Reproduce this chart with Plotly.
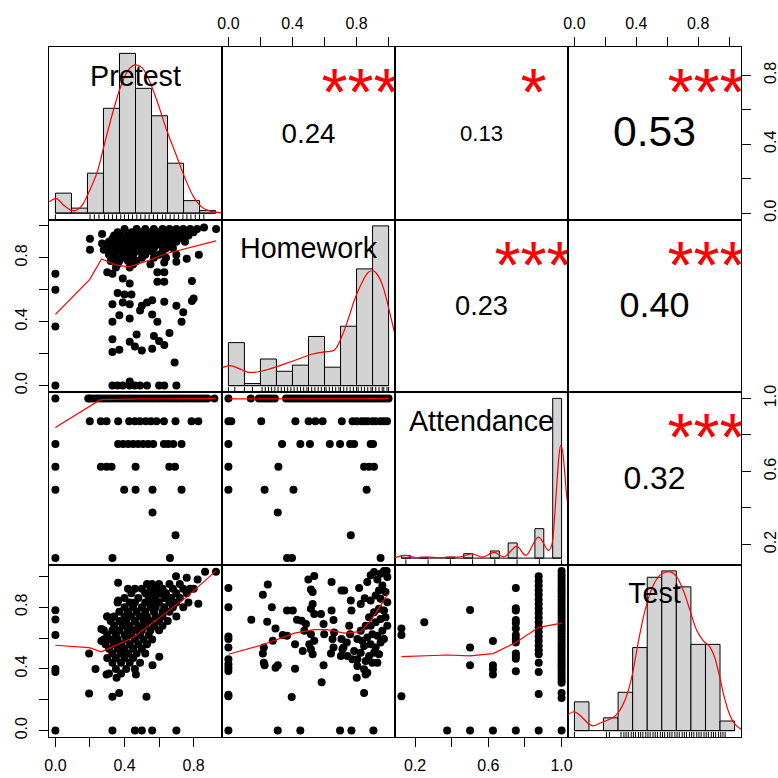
import plotly.graph_objects as go

FONT = "Liberation Sans, Arial, Helvetica, sans-serif"

# ---------------- data ----------------
var_names = ["Pretest", "Homework", "Attendance", "Test"]
var_min = [0.0, 0.0, 0.125, 0.0]
var_max = [0.927, 1.0, 1.0, 1.035]

tick_vals = [[0, 0.2, 0.4, 0.6, 0.8],
             [0, 0.2, 0.4, 0.6, 0.8, 1.0],
             [0.2, 0.4, 0.6, 0.8, 1.0],
             [0, 0.2, 0.4, 0.6, 0.8, 1.0]]
tick_text = [["0.0", "", "0.4", "", "0.8"],
             ["0.0", "", "0.4", "", "0.8", ""],
             ["0.2", "", "0.6", "", "1.0"],
             ["0.0", "", "0.4", "", "0.8", ""]]

corr_vals = {(0, 1): 0.24, (0, 2): 0.13, (0, 3): 0.53, (1, 2): 0.23, (1, 3): 0.40, (2, 3): 0.32}
corr_stars = {(0, 1): "***", (0, 2): "*", (0, 3): "***", (1, 2): "***", (1, 3): "***", (2, 3): "***"}

# histograms (bin breaks and counts)
pre_breaks = [0.0, 0.1, 0.2, 0.3, 0.4, 0.5, 0.6, 0.7, 0.8, 0.9, 1.0]
pre_counts = [8, 2, 16, 42, 64, 50, 39, 20, 5, 1]
hw_breaks = [0.0, 0.1, 0.2, 0.3, 0.4, 0.5, 0.6, 0.7, 0.8, 0.9, 1.0]
hw_counts = [21, 1, 13, 7, 10, 24, 9, 29, 57, 78]
att_breaks = [0.10, 0.15, 0.20, 0.25, 0.30, 0.35, 0.40, 0.45, 0.50, 0.55,
              0.60, 0.65, 0.70, 0.75, 0.80, 0.85, 0.90, 0.95, 1.00]
att_counts = [3, 0, 1, 0, 0, 1, 0, 5, 0, 0, 8, 0, 17, 0, 0, 33, 0, 179]
test_breaks = [0.0, 0.1, 0.2, 0.3, 0.4, 0.5, 0.6, 0.7, 0.8, 0.9, 1.0, 1.1]
test_counts = [9, 0, 4, 12, 26, 48, 50, 45, 27, 27, 3]

# density curves (in count units)
pre_dens_x = [-0.038, 0.004, 0.06, 0.116, 0.164, 0.206, 0.258, 0.31, 0.362, 0.414, 0.456,
              0.497, 0.539, 0.581, 0.633, 0.695, 0.758, 0.81, 0.862, 0.914, 0.966, 1.043]
pre_dens_y = [4.5, 5.8, 2.7, 0.9, 2.9, 8.0, 15.9, 28.6, 41.2, 51.8, 57.4,
              59.4, 58.4, 53.8, 45.2, 33.2, 22.6, 13.9, 6.6, 2.4, 0.8, 0.1]
hw_dens_x = [-0.038, 0.01, 0.07, 0.124, 0.19, 0.26, 0.333, 0.42, 0.52, 0.60, 0.66,
             0.708, 0.75, 0.791, 0.835, 0.874, 0.906, 0.94, 0.968, 1.0, 1.041]
hw_dens_y = [8.8, 9.8, 8.2, 6.5, 6.8, 8.2, 10.1, 12.5, 15.3, 16.5, 17.3,
             24.0, 33.0, 42.7, 50.5, 55.4, 56.0, 53.0, 47.6, 38.0, 24.5]
att_dens_x = [0.065, 0.123, 0.183, 0.248, 0.313, 0.369, 0.435, 0.496, 0.556, 0.621, 0.677, 0.748,
              0.799, 0.87, 0.926, 0.945, 0.96, 0.973, 0.986, 0.995, 1.004, 1.017, 1.028, 1.036]
att_dens_y = [0.4, 3.0, 0.4, 1.1, 0.4, 1.1, 1.5, 4.9, 1.1, 6.4, 1.5, 13.1,
              3.0, 23.5, 8.6, 14.9, 44.8, 82.2, 115.8, 126.3, 121.5, 97.2, 71.0, 59.8]
test_dens_x = [-0.053, -0.003, 0.043, 0.101, 0.129, 0.193, 0.262, 0.297, 0.331, 0.366, 0.40, 0.446,
               0.492, 0.538, 0.584, 0.626, 0.665, 0.70, 0.746, 0.792, 0.838, 0.884, 0.93, 0.964,
               0.999, 1.033, 1.068, 1.102, 1.144]
test_dens_y = [4.6, 5.9, 4.6, 2.0, 1.5, 2.7, 4.0, 5.4, 7.9, 11.9, 18.1, 29.5,
               38.9, 45.1, 48.5, 49.6, 49.6, 48.3, 44.1, 37.9, 31.6, 28.2, 26.2, 22.8,
               16.5, 9.8, 4.8, 2.0, 0.4]

# rug values
pre_rug = [0.0, 0.216, 0.243, 0.272, 0.306, 0.331, 0.356, 0.381, 0.408, 0.431, 0.456, 0.481,
           0.508, 0.533, 0.56, 0.585, 0.612, 0.637, 0.668, 0.689, 0.716, 0.741, 0.769, 0.796,
           0.821, 0.846, 0.873, 0.9, 0.927]
hw_rug = [0.0, 0.04, 0.1, 0.15, 0.21, 0.23, 0.25, 0.27, 0.29, 0.31, 0.33, 0.35, 0.37, 0.39,
          0.41, 0.43, 0.45, 0.47, 0.49, 0.5, 0.52, 0.54, 0.56, 0.58, 0.6, 0.61, 0.63, 0.65,
          0.67, 0.69, 0.7, 0.72, 0.74, 0.76, 0.78, 0.8, 0.81, 0.83, 0.85, 0.87, 0.89, 0.9,
          0.92, 0.94, 0.96, 0.97, 0.99, 1.0]
att_rug = [0.125, 0.25, 0.375, 0.5, 0.625, 0.75, 0.875, 1.0]
test_rug = [0.0, 0.22, 0.24, 0.32, 0.34, 0.355, 0.37, 0.39, 0.405, 0.42, 0.44, 0.455, 0.47,
            0.49, 0.505, 0.52, 0.54, 0.555, 0.57, 0.59, 0.605, 0.62, 0.64, 0.655, 0.67, 0.69,
            0.705, 0.72, 0.74, 0.755, 0.77, 0.79, 0.805, 0.82, 0.84, 0.855, 0.87, 0.89, 0.905,
            0.92, 0.94, 0.955, 0.97, 0.99, 1.005, 1.02, 1.035]

# scatter: Homework (y) vs Pretest (x)
hw_vs_pre = [
    (0, 0.70), (0, 0.60), (0, 0.37), (0, 0.0),
    (0.20, 0.92), (0.20, 0.85), (0.27, 0.95), (0.27, 0.89), (0.28, 0.85), (0.30, 0.71),
    (0.33, 0.70), (0.39, 0.67), (0.43, 0.64), (0.36, 0.58), (0.40, 0.57), (0.44, 0.57),
    (0.33, 0.51), (0.39, 0.52), (0.43, 0.51), (0.49, 0.47), (0.50, 0.50), (0.53, 0.52),
    (0.56, 0.535), (0.63, 0.525), (0.70, 0.50), (0.79, 0.53), (0.80, 0.545), (0.74, 0.46),
    (0.56, 0.445), (0.33, 0.40), (0.37, 0.44), (0.43, 0.42), (0.59, 0.40), (0.73, 0.40),
    (0.47, 0.32), (0.33, 0.29), (0.43, 0.275), (0.46, 0.245), (0.50, 0.22), (0.57, 0.31),
    (0.60, 0.28), (0.63, 0.255), (0.56, 0.23), (0.37, 0.225), (0.33, 0.21), (0.66, 0.33),
    (0.69, 0.145), (0.79, 0.655), (0.63, 0.65), (0.59, 0.65), (0.59, 0.71), (0.63, 0.71),
    (0.63, 0.77), (0.70, 0.775), (0.76, 0.795), (0.83, 0.82), (0.93, 0.98), (0.86, 0.99),
    (0.33, 0.0), (0.36, 0.0), (0.39, 0.0), (0.43, 0.0), (0.46, 0.0), (0.49, 0.0),
    (0.53, 0.0), (0.60, 0.0), (0.63, 0.0), (0.70, 0.0), (0.43, 0.025),
    (0.40, 0.98), (0.47, 0.98), (0.52, 0.98), (0.57, 0.98), (0.62, 0.98), (0.66, 0.98),
    (0.70, 0.98), (0.74, 0.98), (0.78, 0.98), (0.82, 0.98),
    (0.36, 0.96), (0.44, 0.96), (0.50, 0.96), (0.55, 0.96), (0.60, 0.96), (0.64, 0.96),
    (0.68, 0.96), (0.72, 0.96), (0.76, 0.96), (0.80, 0.96),
    (0.34, 0.94), (0.38, 0.94), (0.42, 0.94), (0.46, 0.94), (0.50, 0.94), (0.53, 0.94),
    (0.57, 0.94), (0.61, 0.94), (0.65, 0.94), (0.69, 0.94), (0.73, 0.94), (0.77, 0.94),
    (0.33, 0.92), (0.37, 0.92), (0.41, 0.92), (0.45, 0.92), (0.49, 0.92), (0.52, 0.92),
    (0.56, 0.92), (0.60, 0.92), (0.63, 0.92), (0.67, 0.92), (0.71, 0.92),
    (0.31, 0.90), (0.35, 0.90), (0.40, 0.90), (0.44, 0.90), (0.48, 0.90), (0.51, 0.90),
    (0.55, 0.90), (0.59, 0.90), (0.62, 0.90), (0.66, 0.90), (0.70, 0.90), (0.75, 0.90),
    (0.33, 0.88), (0.38, 0.88), (0.42, 0.88), (0.46, 0.88), (0.50, 0.88), (0.54, 0.88),
    (0.58, 0.88), (0.61, 0.88), (0.65, 0.88),
    (0.30, 0.86), (0.36, 0.86), (0.40, 0.86), (0.44, 0.86), (0.49, 0.86), (0.53, 0.86),
    (0.57, 0.86), (0.64, 0.86), (0.68, 0.86),
    (0.33, 0.84), (0.38, 0.84), (0.43, 0.84), (0.47, 0.84), (0.51, 0.84), (0.56, 0.84), (0.62, 0.84),
    (0.31, 0.82), (0.35, 0.82), (0.40, 0.82), (0.45, 0.82), (0.52, 0.82), (0.60, 0.82), (0.70, 0.82),
    (0.34, 0.80), (0.39, 0.80), (0.44, 0.80), (0.50, 0.80), (0.57, 0.80), (0.64, 0.80),
    (0.32, 0.78), (0.37, 0.78), (0.42, 0.78), (0.47, 0.78),
    (0.36, 0.76), (0.45, 0.76), (0.55, 0.76), (0.35, 0.74), (0.43, 0.74),
]
hw_vs_pre_loess_x = [0, 0.199, 0.267, 0.354, 0.427, 0.527, 0.643, 0.779, 0.929]
hw_vs_pre_loess_y = [0.446, 0.665, 0.793, 0.754, 0.744, 0.779, 0.827, 0.8625, 0.906]

# scatter: Attendance (y) vs Pretest (x), grouped by attendance level
att_vs_pre = {
    1.0: [0, 0.19, 0.20, 0.22, 0.24, 0.26, 0.28, 0.30, 0.32, 0.34, 0.36, 0.38, 0.40, 0.42,
          0.44, 0.46, 0.48, 0.50, 0.52, 0.54, 0.56, 0.58, 0.60, 0.62, 0.64, 0.66, 0.68, 0.70,
          0.72, 0.74, 0.76, 0.78, 0.80, 0.82, 0.84, 0.86, 0.88, 0.92],
    0.875: [0.199, 0.263, 0.296, 0.363, 0.427, 0.46, 0.489, 0.523, 0.553, 0.585, 0.628, 0.695, 0.788, 0.827],
    0.75: [0, 0.363, 0.392, 0.421, 0.45, 0.479, 0.508, 0.537, 0.566, 0.628, 0.653, 0.682, 0.73],
    0.625: [0, 0.263, 0.296, 0.325, 0.464, 0.659, 0.692],
    0.5: [0, 0.398, 0.464, 0.562, 0.73],
    0.375: [0.562],
    0.25: [0.695],
    0.125: [0, 0.33, 0.663],
}
att_vs_pre_loess_x = [0, 0.17, 0.26, 0.5, 0.93]
att_vs_pre_loess_y = [0.84, 0.938, 0.993, 0.997, 0.999]

# scatter: Attendance (y) vs Homework (x)
att_vs_hw = {
    1.0: [0, 0.14, 0.19, 0.21, 0.23, 0.25, 0.27, 0.29, 0.36, 0.38, 0.40, 0.42, 0.44, 0.46,
          0.48, 0.50, 0.52, 0.54, 0.56, 0.58, 0.60, 0.62, 0.64, 0.66, 0.68, 0.70, 0.72, 0.74,
          0.76, 0.78, 0.80, 0.82, 0.84, 0.86, 0.88, 0.90, 0.92, 0.94, 0.96, 0.98, 1.0],
    0.875: [0, 0.018, 0.205, 0.418, 0.501, 0.543, 0.588, 0.708, 0.775, 0.80, 0.83, 0.85,
            0.87, 0.90, 0.92, 0.95, 0.97, 0.99],
    0.75: [0, 0.335, 0.449, 0.509, 0.633, 0.697, 0.76, 0.785, 0.888, 0.903],
    0.625: [0, 0.312, 0.847, 0.878, 0.909],
    0.5: [0, 0.226, 0.406, 0.863],
    0.375: [0.308],
    0.25: [0.764],
    0.125: [0.366, 0.397, 0.95],
}
att_vs_hw_loess_x = [0, 0.5, 1.0]
att_vs_hw_loess_y = [0.997, 0.998, 0.999]

# scatter: Test (y) vs Pretest (x)
test_vs_pre = [
    (0, 0.78), (0, 0.72), (0, 0.62), (0, 0.40), (0, 0.38), (0, 0.0),
    (0.195, 0.24), (0.195, 0.50), (0.232, 0.40), (0.33, 0.22), (0.369, 0.244),
    (0.33, 0.0), (0.46, 0.0), (0.50, 0.0), (0.56, 0.0), (0.70, 0.0),
    (0.527, 0.22), (0.363, 0.958), (0.363, 0.843), (0.30, 0.739), (0.266, 0.658), (0.266, 0.581),
    (0.296, 0.364), (0.354, 0.342), (0.466, 0.364), (0.562, 0.423), (0.601, 0.479),
    (0.827, 0.822), (0.866, 1.03), (0.929, 1.03), (0.698, 1.0), (0.76, 0.99), (0.823, 0.98),
    (0.53, 0.95), (0.56, 0.95), (0.60, 0.95), (0.66, 0.95), (0.72, 0.95),
    (0.42, 0.92), (0.46, 0.92), (0.50, 0.92), (0.55, 0.92), (0.58, 0.92), (0.62, 0.92),
    (0.68, 0.92), (0.74, 0.92), (0.78, 0.92), (0.80, 0.92),
    (0.44, 0.89), (0.52, 0.89), (0.56, 0.89), (0.60, 0.89), (0.64, 0.89), (0.70, 0.89), (0.76, 0.89),
    (0.40, 0.86), (0.48, 0.86), (0.54, 0.86), (0.58, 0.86), (0.63, 0.86), (0.67, 0.86), (0.72, 0.86),
    (0.36, 0.83), (0.43, 0.83), (0.46, 0.83), (0.52, 0.83), (0.56, 0.83), (0.60, 0.83),
    (0.66, 0.83), (0.70, 0.83), (0.77, 0.83),
    (0.40, 0.80), (0.45, 0.80), (0.50, 0.80), (0.55, 0.80), (0.58, 0.80), (0.63, 0.80),
    (0.68, 0.80), (0.74, 0.80),
    (0.37, 0.77), (0.42, 0.77), (0.47, 0.77), (0.52, 0.77), (0.57, 0.77), (0.62, 0.77), (0.66, 0.77),
    (0.30, 0.74), (0.34, 0.74), (0.40, 0.74), (0.44, 0.74), (0.49, 0.74), (0.53, 0.74),
    (0.58, 0.74), (0.62, 0.74), (0.70, 0.74),
    (0.32, 0.71), (0.37, 0.71), (0.41, 0.71), (0.46, 0.71), (0.51, 0.71), (0.55, 0.71),
    (0.60, 0.71), (0.65, 0.71),
    (0.34, 0.68), (0.39, 0.68), (0.43, 0.68), (0.48, 0.68), (0.52, 0.68), (0.57, 0.68), (0.62, 0.68),
    (0.28, 0.65), (0.33, 0.65), (0.37, 0.65), (0.42, 0.65), (0.46, 0.65), (0.50, 0.65),
    (0.55, 0.65), (0.60, 0.65),
    (0.30, 0.62), (0.35, 0.62), (0.40, 0.62), (0.44, 0.62), (0.49, 0.62), (0.54, 0.62),
    (0.28, 0.59), (0.32, 0.59), (0.36, 0.59), (0.41, 0.59), (0.46, 0.59), (0.51, 0.59), (0.56, 0.59),
    (0.29, 0.56), (0.34, 0.56), (0.38, 0.56), (0.43, 0.56), (0.48, 0.56), (0.53, 0.56),
    (0.31, 0.53), (0.36, 0.53), (0.40, 0.53), (0.45, 0.53), (0.50, 0.53),
    (0.33, 0.50), (0.38, 0.50), (0.42, 0.50), (0.47, 0.50), (0.52, 0.50),
    (0.30, 0.47), (0.35, 0.47), (0.40, 0.47), (0.45, 0.47),
    (0.33, 0.44), (0.38, 0.44), (0.43, 0.44), (0.49, 0.44),
    (0.35, 0.40), (0.41, 0.40), (0.46, 0.40), (0.31, 0.37), (0.38, 0.37),
]
test_vs_pre_loess_x = [0, 0.195, 0.266, 0.45, 0.527, 0.643, 0.759, 0.929]
test_vs_pre_loess_y = [0.553, 0.538, 0.51, 0.603, 0.669, 0.767, 0.865, 1.035]

# scatter: Test (y) vs Homework (x)
test_vs_hw = [
    (0, 0.924), (0, 0.80), (0, 0.61), (0, 0.593), (0, 0.538), (0, 0.462), (0, 0.43),
    (0, 0.408), (0, 0.386), (0, 0.233), (0, 0.222), (0, 0.0),
    (0.308, 0.0), (0.449, 0.0), (0.697, 0.0), (0.768, 0.0), (0.905, 0.0),
    (0.143, 0.719), (0.215, 0.88), (0.246, 0.946), (0.271, 0.80), (0.242, 0.706), (0.294, 0.662),
    (0.221, 0.538), (0.215, 0.50), (0.221, 0.44), (0.226, 0.423), (0.294, 0.408), (0.308, 0.423),
    (0.277, 0.582), (0.339, 0.619), (0.366, 0.778), (0.402, 0.778), (0.366, 0.614), (0.416, 0.56),
    (0.416, 0.401), (0.395, 0.218), (0.428, 0.719), (0.457, 0.712), (0.499, 0.98), (0.536, 1.002),
    (0.515, 0.915), (0.526, 0.898), (0.526, 0.821), (0.515, 0.789), (0.536, 0.756), (0.484, 0.691),
    (0.474, 0.647), (0.515, 0.625), (0.536, 0.582), (0.505, 0.56), (0.526, 0.495), (0.515, 0.527),
    (0.464, 0.516), (0.578, 0.756), (0.594, 0.691), (0.598, 0.625), (0.594, 0.423), (0.582, 0.314),
    (0.644, 0.963), (0.644, 0.778), (0.656, 0.717), (0.66, 0.636), (0.65, 0.593), (0.656, 0.538),
    (0.64, 0.499), (0.706, 0.908), (0.723, 0.908), (0.706, 0.593), (0.718, 0.538), (0.702, 0.484),
    (0.712, 0.527), (0.764, 0.843), (0.768, 0.778), (0.754, 0.68), (0.76, 0.625), (0.739, 0.571),
    (0.743, 0.484), (0.774, 0.462), (0.785, 0.516), (0.805, 0.593), (0.816, 0.924), (0.826, 0.821),
    (0.801, 0.342), (0.857, 0.364), (0.847, 0.244),
    (0.851, 0.858), (0.867, 0.963), (0.888, 1.007), (0.909, 1.028), (0.93, 0.98), (0.95, 1.017),
    (0.971, 1.035), (0.988, 1.035), (0.992, 0.996), (0.961, 0.941), (0.94, 0.908), (0.919, 0.876),
    (0.888, 0.843), (0.95, 0.854), (0.981, 0.898), (0.992, 0.832), (0.971, 0.778), (0.94, 0.789),
    (0.909, 0.767), (0.878, 0.734), (0.857, 0.68), (0.888, 0.68), (0.919, 0.702), (0.95, 0.723),
    (0.981, 0.734), (0.992, 0.68), (0.961, 0.647), (0.93, 0.614), (0.899, 0.625), (0.867, 0.603),
    (0.847, 0.549), (0.888, 0.56), (0.919, 0.538), (0.95, 0.571), (0.971, 0.593), (0.94, 0.495),
    (0.909, 0.505), (0.878, 0.484), (0.857, 0.451), (0.899, 0.44), (0.93, 0.44), (0.826, 0.647),
    (0.836, 0.582), (0.826, 0.505), (0.805, 0.462), (0.847, 0.397), (0.867, 0.375), (0.805, 0.418),
]
test_vs_hw_loess_x = [0, 0.205, 0.412, 0.536, 0.619, 0.723, 0.826, 0.888, 0.95, 0.996]
test_vs_hw_loess_y = [0.495, 0.553, 0.632, 0.654, 0.654, 0.632, 0.641, 0.712, 0.81, 0.887]

# scatter: Test (y) vs Attendance (x), grouped by attendance level
test_vs_att = {
    0.125: [0.662, 0.619, 0.222],
    0.25: [0.702],
    0.375: [0.0],
    0.5: [0.782, 0.538, 0.423, 0.0],
    0.625: [0.58, 0.423, 0.397, 0.364, 0.0],
    0.75: [0.924, 0.793, 0.778, 0.717, 0.697, 0.662, 0.619, 0.593, 0.571, 0.499, 0.484,
           0.466, 0.384, 0.0],
    0.875: [1.0, 0.97, 0.94, 0.91, 0.88, 0.85, 0.82, 0.79, 0.76, 0.73, 0.70, 0.67, 0.64,
            0.61, 0.58, 0.55, 0.52, 0.495, 0.44, 0.379, 0.237, 0.0],
    1.0: [1.035, 1.01, 0.99, 0.97, 0.95, 0.93, 0.91, 0.89, 0.87, 0.85, 0.83, 0.81, 0.79,
          0.77, 0.75, 0.73, 0.71, 0.69, 0.67, 0.65, 0.63, 0.61, 0.59, 0.57, 0.55, 0.53, 0.51,
          0.49, 0.47, 0.45, 0.43, 0.41, 0.39, 0.37, 0.35, 0.33, 0.31, 0.244, 0.211, 0.0],
}
test_vs_att_loess_x = [0.125, 0.375, 0.5, 0.625, 0.75, 0.875, 1.0]
test_vs_att_loess_y = [0.479, 0.49, 0.484, 0.499, 0.571, 0.669, 0.697]

# ---------------- figure ----------------
def ext(lo, hi):
    d = hi - lo
    return [lo - 0.04 * d, hi + 0.04 * d]

var_rng = [ext(var_min[i], var_max[i]) for i in range(4)]

hists = [
    (pre_breaks, pre_counts, pre_dens_x, pre_dens_y, pre_rug),
    (hw_breaks, hw_counts, hw_dens_x, hw_dens_y, hw_rug),
    (att_breaks, att_counts, att_dens_x, att_dens_y, att_rug),
    (test_breaks, test_counts, test_dens_x, test_dens_y, test_rug),
]


def kidx(r, c):
    return r * 4 + c + 1


def axname(prefix, k):
    return prefix if k == 1 else f"{prefix}{k}"


fig = go.Figure()
layout = {}
ranges = {}

for r in range(4):
    for c in range(4):
        k = kidx(r, c)
        if r == c:
            b, cnt = hists[r][0], hists[r][1]
            xr = ext(b[0], b[-1])
            yr = ext(0, max(cnt))
        else:
            xr = var_rng[c]
            yr = var_rng[r]
        ranges[(r, c)] = (xr, yr)
        common = dict(showgrid=False, zeroline=False, showline=True, mirror=True,
                      linecolor="black", linewidth=1, ticks="", showticklabels=False,
                      fixedrange=True, automargin=False)
        xa = dict(common, domain=[c / 4, (c + 1) / 4], range=xr, anchor=axname("y", k))
        ya = dict(common, domain=[1 - (r + 1) / 4, 1 - r / 4], range=yr, anchor=axname("x", k))
        tickstyle = dict(ticks="outside", ticklen=9, tickwidth=1, tickcolor="black",
                         showticklabels=True,
                         tickfont=dict(family=FONT, size=16, color="black"))
        # outer axes, R pairs style
        if r == 0 and c in (1, 3):
            xa.update(tickstyle, side="top", tickvals=tick_vals[c], ticktext=tick_text[c],
                      ticklabelstandoff=2)
        if r == 3 and c in (0, 2):
            xa.update(tickstyle, side="bottom", tickvals=tick_vals[c], ticktext=tick_text[c],
                      ticklabelstandoff=5)
        if c == 3 and r in (0, 2):
            ya.update(tickstyle, side="right", tickvals=tick_vals[r], ticktext=tick_text[r],
                      tickangle=-90, ticklabelstandoff=6)
        if c == 0 and r in (1, 3):
            ya.update(tickstyle, side="left", tickvals=tick_vals[r], ticktext=tick_text[r],
                      tickangle=-90, ticklabelstandoff=6)
        layout[axname("xaxis", k)] = xa
        layout[axname("yaxis", k)] = ya


def refs(r, c):
    k = kidx(r, c)
    return dict(xaxis=axname("x", k), yaxis=axname("y", k))


RED = "#FF0000"
PT = dict(color="black", size=8)

# diagonal histograms
for i in range(4):
    b, cnt, dx, dy, rug = hists[i]
    xr, yr = ranges[(i, i)]
    cx = [(b[j] + b[j + 1]) / 2 for j in range(len(cnt)) if cnt[j] > 0]
    cy = [cnt[j] for j in range(len(cnt)) if cnt[j] > 0]
    w = b[1] - b[0]
    fig.add_trace(go.Bar(x=cx, y=cy, width=w, marker=dict(color="#D3D3D3",
                         line=dict(color="black", width=1)), **refs(i, i)))
    fig.add_trace(go.Scatter(x=[b[0], b[-1]], y=[0, 0], mode="lines",
                             line=dict(color="black", width=1), **refs(i, i)))
    rx, ry = [], []
    span = yr[1] - yr[0]
    for v in rug:
        rx += [v, v, None]
        ry += [yr[0], yr[0] + 0.03 * span, None]
    fig.add_trace(go.Scatter(x=rx, y=ry, mode="lines", line=dict(color="black", width=1),
                             **refs(i, i)))
    fig.add_trace(go.Scatter(x=dx, y=dy, mode="lines", line=dict(color=RED, width=1.2),
                             line_shape="spline", **refs(i, i)))
    fig.add_trace(go.Scatter(x=[xr[0] + 0.5 * (xr[1] - xr[0])],
                             y=[yr[0] + 0.816 * (yr[1] - yr[0])],
                             mode="text", text=[var_names[i]], textposition="middle center",
                             textfont=dict(family=FONT, size=28.7, color="black"),
                             **refs(i, i)))


def add_pairs(pts, r, c):
    fig.add_trace(go.Scatter(x=[p[0] for p in pts], y=[p[1] for p in pts], mode="markers",
                             marker=PT, **refs(r, c)))


def add_groups_y(groups, r, c):  # groups keyed by y level
    xs, ys = [], []
    for lvl, vals in groups.items():
        xs += vals
        ys += [lvl] * len(vals)
    fig.add_trace(go.Scatter(x=xs, y=ys, mode="markers", marker=PT, **refs(r, c)))


def add_groups_x(groups, r, c):  # groups keyed by x level
    xs, ys = [], []
    for lvl, vals in groups.items():
        ys += vals
        xs += [lvl] * len(vals)
    fig.add_trace(go.Scatter(x=xs, y=ys, mode="markers", marker=PT, **refs(r, c)))


def add_loess(x, y, r, c):
    fig.add_trace(go.Scatter(x=x, y=y, mode="lines", line=dict(color=RED, width=1.2),
                             **refs(r, c)))


add_pairs(hw_vs_pre, 1, 0)
add_loess(hw_vs_pre_loess_x, hw_vs_pre_loess_y, 1, 0)
add_groups_y(att_vs_pre, 2, 0)
add_loess(att_vs_pre_loess_x, att_vs_pre_loess_y, 2, 0)
add_groups_y(att_vs_hw, 2, 1)
add_loess(att_vs_hw_loess_x, att_vs_hw_loess_y, 2, 1)
add_pairs(test_vs_pre, 3, 0)
add_loess(test_vs_pre_loess_x, test_vs_pre_loess_y, 3, 0)
add_pairs(test_vs_hw, 3, 1)
add_loess(test_vs_hw_loess_x, test_vs_hw_loess_y, 3, 1)
add_groups_x(test_vs_att, 3, 2)
add_loess(test_vs_att_loess_x, test_vs_att_loess_y, 3, 2)

# correlation text panels
BASE = 66.8
for (r, c), val in corr_vals.items():
    xr, yr = ranges[(r, c)]
    fs = BASE * (abs(val) + 0.3) / 1.3
    fig.add_trace(go.Scatter(x=[xr[0] + 0.5 * (xr[1] - xr[0])],
                             y=[yr[0] + 0.485 * (yr[1] - yr[0])],
                             mode="text", text=[f"{val:.2f}"], textposition="middle center",
                             textfont=dict(family=FONT, size=fs, color="black"),
                             cliponaxis=True, **refs(r, c)))
    fig.add_trace(go.Scatter(x=[xr[0] + 0.8 * (xr[1] - xr[0])],
                             y=[yr[0] + 0.70 * (yr[1] - yr[0])],
                             mode="text", text=[corr_stars[(r, c)]], textposition="middle center",
                             textfont=dict(family=FONT, size=BASE, color=RED),
                             cliponaxis=True, **refs(r, c)))

fig.update_layout(
    template="none",
    width=778, height=778,
    margin=dict(l=49, r=37, t=47, b=41, autoexpand=False),
    paper_bgcolor="white", plot_bgcolor="white",
    showlegend=False, barmode="overlay",
    font=dict(family=FONT, color="black"),
    **layout,
)

fig.write_html("out.html",
               config={"displayModeBar": False},
               post_script="document.body.style.margin='0px';"
                           "document.body.style.overflow='hidden';")
